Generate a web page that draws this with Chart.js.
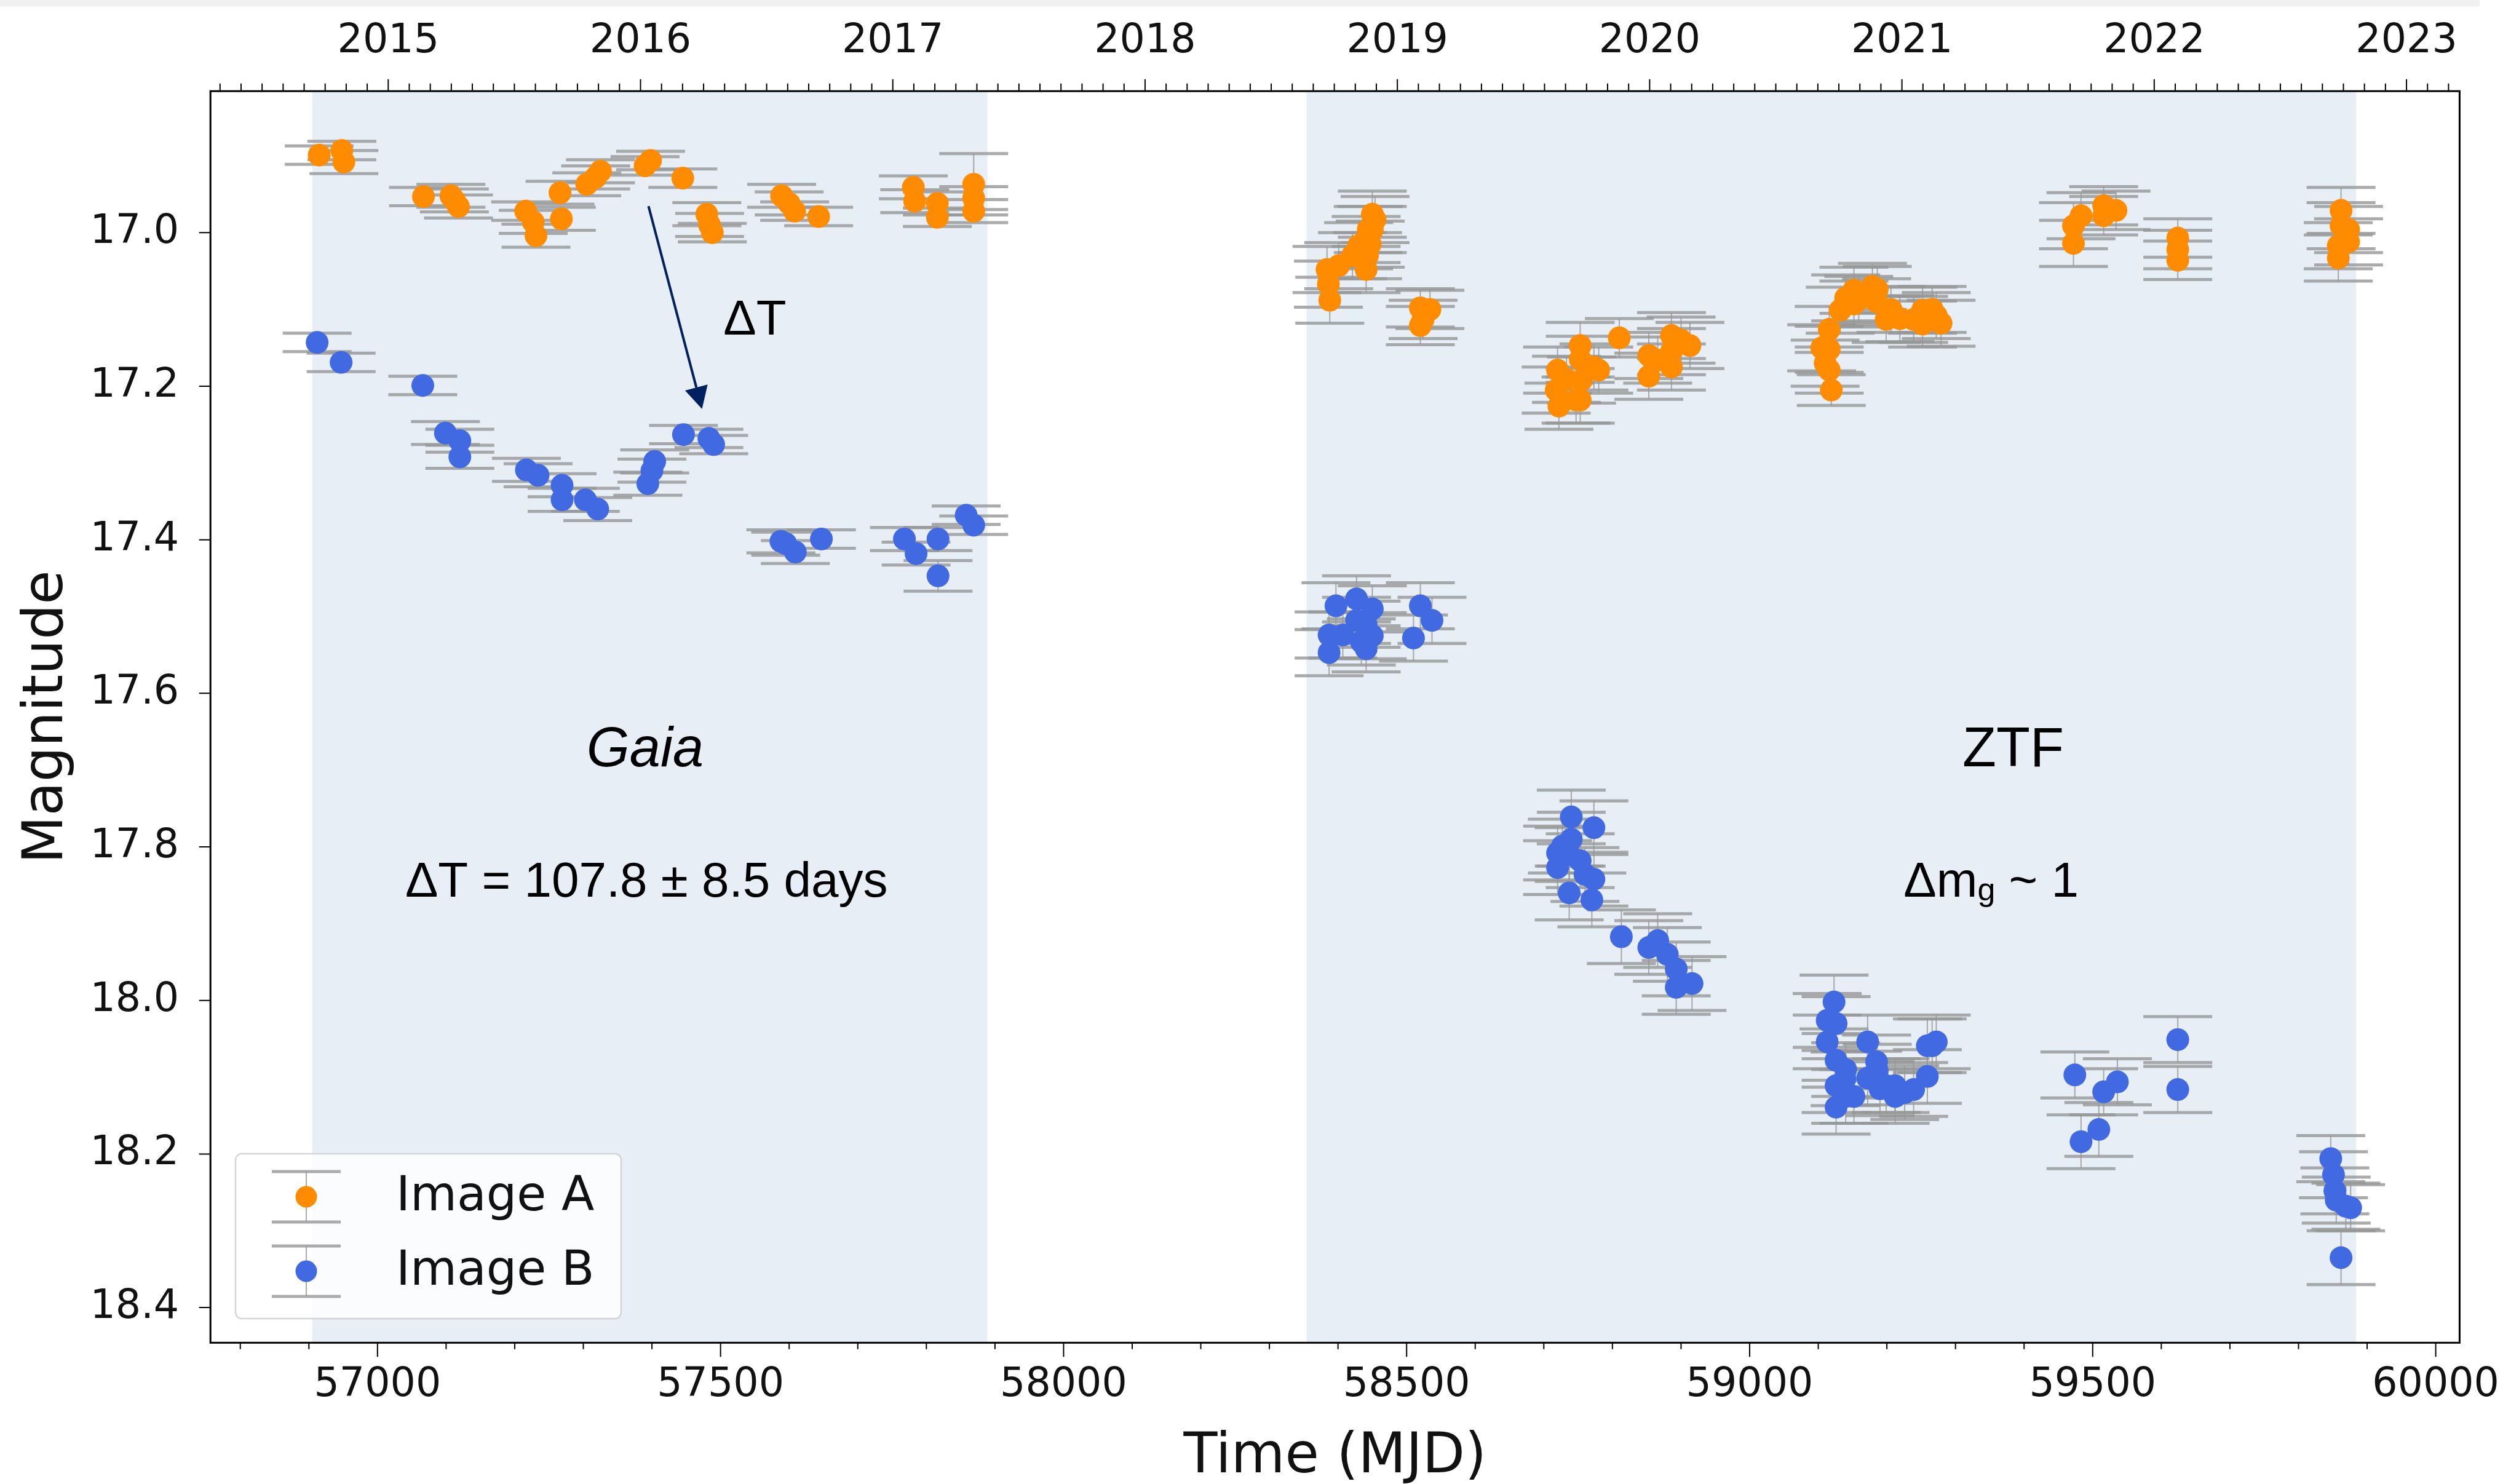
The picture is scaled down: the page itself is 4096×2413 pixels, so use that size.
<!DOCTYPE html>
<html>
<head>
<meta charset="utf-8">
<title>Light curves of Image A and Image B</title>
<script src="https://cdn.jsdelivr.net/npm/chart.js@4.4.1/dist/chart.umd.min.js"></script>
<style>
  html, body { margin: 0; padding: 0; background: #fff; }
  canvas { display: block; }
</style>
</head>
<body>
<canvas id="lc" width="4096" height="2413"></canvas>
<script>
// Image A (orange): Gaia then ZTF seasons
const mjdA = [
  56915, 56948, 56951, 57067, 57107, 57112, 57118, 57216, 57227, 57231, 57266, 57268,
  57305, 57318, 57325, 57390, 57398, 57445, 57480, 57484, 57488, 57589, 57600, 57608,
  57643, 57781, 57783, 57816, 57816, 57869, 57869, 57869,
  58384, 58386, 58388, 58441, 58443, 58441, 58450, 58450, 58447, 58520, 58524, 58520,
  58401, 58421, 58430, 58444, 58454, 58534,
  58720, 58718, 58722, 58753, 58753, 58755, 58753, 58773, 58810, 58853, 58853, 58886,
  58886, 58886, 58913, 58733, 58780, 58747, 58866, 58900,
  59105, 59110, 59116, 59116, 59116, 59119, 59132, 59140, 59152, 59152, 59179, 59185,
  59199, 59219, 59252, 59252, 59272, 59159, 59186, 59206, 59239, 59266, 59279,
  59472, 59472, 59483, 59516, 59516, 59534, 59624, 59624, 59624,
  59862, 59862, 59873, 59873, 59858, 59858
];
const magA = [
  16.899, 16.893, 16.908, 16.953, 16.952, 16.958, 16.966, 16.972, 16.986, 17.004, 16.948, 16.982,
  16.937, 16.928, 16.920, 16.913, 16.906, 16.929, 16.976, 16.990, 17.000, 16.952, 16.962, 16.972,
  16.979, 16.941, 16.959, 16.962, 16.980, 16.937, 16.955, 16.972,
  17.048, 17.067, 17.088, 17.009, 17.030, 17.048, 16.976, 16.996, 17.015, 17.098, 17.113, 17.121,
  17.043, 17.030, 17.017, 16.996, 16.983, 17.100,
  17.179, 17.205, 17.226, 17.147, 17.165, 17.192, 17.218, 17.175, 17.137, 17.160, 17.187, 17.134,
  17.155, 17.175, 17.147, 17.191, 17.179, 17.218, 17.166, 17.140,
  17.150, 17.170, 17.126, 17.152, 17.179, 17.205, 17.101, 17.085, 17.075, 17.093, 17.070, 17.090,
  17.113, 17.112, 17.101, 17.119, 17.108, 17.087, 17.074, 17.100, 17.113, 17.100, 17.118,
  16.991, 17.014, 16.978, 16.965, 16.978, 16.971, 17.007, 17.022, 17.036,
  16.971, 16.991, 16.996, 17.012, 17.017, 17.033
];
const errA = [
  0.012, 0.012, 0.015, 0.012, 0.015, 0.015, 0.015, 0.012, 0.015, 0.015, 0.015, 0.015,
  0.015, 0.015, 0.015, 0.012, 0.012, 0.012, 0.015, 0.015, 0.012, 0.015, 0.015, 0.012,
  0.012, 0.015, 0.015, 0.015, 0.012, 0.040, 0.015, 0.015,
  0.030, 0.030, 0.030, 0.030, 0.030, 0.030, 0.030, 0.030, 0.030, 0.025, 0.025, 0.025,
  0.030, 0.030, 0.030, 0.030, 0.030, 0.025,
  0.030, 0.030, 0.030, 0.030, 0.030, 0.030, 0.030, 0.030, 0.025, 0.030, 0.030, 0.030,
  0.030, 0.030, 0.030, 0.030, 0.030, 0.030, 0.030, 0.030,
  0.030, 0.030, 0.030, 0.030, 0.030, 0.020, 0.030, 0.030, 0.030, 0.030, 0.030, 0.030,
  0.030, 0.030, 0.030, 0.030, 0.030, 0.030, 0.030, 0.030, 0.030, 0.030, 0.030,
  0.030, 0.030, 0.030, 0.025, 0.025, 0.025, 0.025, 0.025, 0.025,
  0.030, 0.030, 0.030, 0.030, 0.030, 0.030
];

// Image B (blue)
const mjdB = [
  56912, 56947, 57066, 57099, 57120, 57120, 57217, 57234, 57269, 57269, 57303, 57321,
  57394, 57404, 57400, 57446, 57483, 57490, 57588, 57609, 57595, 57647, 57768, 57785,
  57817, 57817, 57858, 57869,
  58387, 58387, 58397, 58427, 58427, 58441, 58441, 58450, 58450, 58510, 58520, 58537,
  58407, 58434,
  58740, 58740, 58773, 58720, 58720, 58737, 58760, 58773, 58737, 58770, 58813, 58853,
  58866, 58880, 58893, 58893, 58916, 58727, 58753,
  59123, 59113, 59113, 59126, 59126, 59126, 59140, 59140, 59172, 59172, 59185, 59190,
  59212, 59212, 59226, 59259, 59272, 59259, 59139, 59152, 59199, 59186, 59239, 59266, 59126,
  59474, 59516, 59536, 59483, 59509, 59624, 59624,
  59847, 59851, 59853, 59855, 59869, 59876, 59862
];
const magB = [
  17.143, 17.169, 17.199, 17.261, 17.271, 17.292, 17.309, 17.316, 17.329, 17.348, 17.348, 17.360,
  17.327, 17.298, 17.310, 17.263, 17.268, 17.276, 17.402, 17.416, 17.405, 17.399, 17.399, 17.418,
  17.399, 17.447, 17.368, 17.381,
  17.524, 17.547, 17.486, 17.477, 17.505, 17.510, 17.542, 17.490, 17.525, 17.528, 17.486, 17.505,
  17.524, 17.533,
  17.761, 17.790, 17.775, 17.808, 17.827, 17.810, 17.836, 17.842, 17.860, 17.869, 17.917, 17.931,
  17.922, 17.940, 17.959, 17.983, 17.978, 17.799, 17.818,
  18.002, 18.026, 18.054, 18.078, 18.111, 18.139, 18.090, 18.125, 18.054, 18.101, 18.080, 18.115,
  18.111, 18.125, 18.120, 18.059, 18.054, 18.099, 18.102, 18.125, 18.111, 18.092, 18.116, 18.059, 18.030,
  18.097, 18.119, 18.106, 18.184, 18.168, 18.051, 18.116,
  18.206, 18.227, 18.248, 18.260, 18.268, 18.270, 18.335
];
const errB = [
  0.012, 0.012, 0.012, 0.015, 0.015, 0.015, 0.015, 0.015, 0.015, 0.015, 0.015, 0.015,
  0.015, 0.015, 0.015, 0.012, 0.012, 0.012, 0.015, 0.015, 0.015, 0.012, 0.015, 0.015,
  0.015, 0.020, 0.012, 0.012,
  0.030, 0.030, 0.030, 0.030, 0.030, 0.030, 0.030, 0.030, 0.030, 0.030, 0.030, 0.030,
  0.030, 0.030,
  0.035, 0.035, 0.035, 0.035, 0.035, 0.035, 0.035, 0.035, 0.035, 0.035, 0.035, 0.035,
  0.035, 0.035, 0.035, 0.035, 0.035, 0.035, 0.035,
  0.035, 0.035, 0.035, 0.035, 0.035, 0.035, 0.035, 0.035, 0.035, 0.035, 0.035, 0.035,
  0.035, 0.035, 0.035, 0.035, 0.035, 0.035, 0.035, 0.035, 0.035, 0.035, 0.035, 0.035, 0.035,
  0.030, 0.030, 0.030, 0.035, 0.035, 0.030, 0.030,
  0.030, 0.030, 0.030, 0.030, 0.030, 0.030, 0.035
];

const xTicks = [57000, 57500, 58000, 58500, 59000, 59500, 60000];
const yTicks = [17.0, 17.2, 17.4, 17.6, 17.8, 18.0, 18.2, 18.4];
const yearTicks = [2015, 2016, 2017, 2018, 2019, 2020, 2021, 2022, 2023];
const surveyStart = [56905, 58354];
const surveyEnd = [57889, 59884];
const surveyNames = ['Gaia', 'ZTF'];

const orange = '#ff8c00';
const blue = '#4169e1';
const errColor = 'rgba(150,150,150,0.8)';
const navy = '#002060';
const markerR = 18.5;

function drawErrors(ctx, chart, idx, errs) {
  const meta = chart.getDatasetMeta(idx);
  const ys = chart.scales.y;
  const vals = chart.data.datasets[idx].data;
  ctx.strokeStyle = errColor;
  meta.data.forEach((pt, i) => {
    const top = ys.getPixelForValue(vals[i].y - errs[i]);
    const bot = ys.getPixelForValue(vals[i].y + errs[i]);
    ctx.lineWidth = 2;
    ctx.beginPath();
    ctx.moveTo(pt.x, top); ctx.lineTo(pt.x, bot);
    ctx.stroke();
    ctx.lineWidth = 5;
    ctx.beginPath();
    ctx.moveTo(pt.x - 56, top); ctx.lineTo(pt.x + 56, top);
    ctx.moveTo(pt.x - 56, bot); ctx.lineTo(pt.x + 56, bot);
    ctx.stroke();
  });
}

const decorations = {
  id: 'decorations',
  beforeDraw(chart) {
    const { ctx } = chart;
    ctx.save();
    ctx.fillStyle = '#fff';
    ctx.fillRect(0, 0, chart.width, chart.height);
    ctx.fillStyle = '#f0f0f0';
    ctx.fillRect(0, 0, 4032, 10.7);
    ctx.restore();
  },
  beforeDatasetsDraw(chart) {
    const { ctx, chartArea: a, scales } = chart;
    ctx.save();
    ctx.fillStyle = '#e7eef6';
    surveyStart.forEach((s, i) => {
      const x0 = scales.x.getPixelForValue(s);
      const x1 = scales.x.getPixelForValue(surveyEnd[i]);
      ctx.fillRect(x0, a.top, x1 - x0, a.bottom - a.top);
    });
    drawErrors(ctx, chart, 0, errA);
    drawErrors(ctx, chart, 1, errB);
    ctx.restore();
  },
  afterDatasetsDraw(chart) {
    const { ctx, chartArea: a, scales } = chart;
    const xs = scales.x, ys = scales.y, ts = scales.top;
    ctx.save();

    // frame and ticks
    ctx.strokeStyle = '#000';
    ctx.lineWidth = 3;
    ctx.strokeRect(a.left, a.top, a.right - a.left, a.bottom - a.top);
    ctx.lineWidth = 2;
    ctx.beginPath();
    for (let v = 56800; v <= 60000; v += 100) {
      const px = xs.getPixelForValue(v);
      if (px < a.left || px > a.right) continue;
      const len = v % 500 === 0 ? 23 : 10.5;
      ctx.moveTo(px, a.bottom); ctx.lineTo(px, a.bottom + len);
    }
    for (let y = 2014; y <= 2024; y++) {
      for (let m = 0; m < 12; m++) {
        const px = ts.getPixelForValue(y + m / 12);
        if (px < a.left || px > a.right) continue;
        const len = m === 0 ? 19.5 : 12.5;
        ctx.moveTo(px, a.top); ctx.lineTo(px, a.top - len);
      }
    }
    yTicks.forEach(v => {
      const py = ys.getPixelForValue(v);
      ctx.moveTo(a.left, py); ctx.lineTo(a.left - 18.5, py);
    });
    ctx.stroke();

    // delay arrow
    const x0 = xs.getPixelForValue(57395), y0 = ys.getPixelForValue(16.9656);
    const x1 = xs.getPixelForValue(57473), y1 = ys.getPixelForValue(17.2296);
    const ang = Math.atan2(y1 - y0, x1 - x0);
    const hl = 36, hw = 19;
    ctx.strokeStyle = navy;
    ctx.fillStyle = navy;
    ctx.lineWidth = 4;
    ctx.beginPath();
    ctx.moveTo(x0, y0);
    ctx.lineTo(x1 - hl * Math.cos(ang), y1 - hl * Math.sin(ang));
    ctx.stroke();
    ctx.beginPath();
    ctx.moveTo(x1, y1);
    ctx.lineTo(x1 - hl * Math.cos(ang) + hw * Math.sin(ang), y1 - hl * Math.sin(ang) - hw * Math.cos(ang));
    ctx.lineTo(x1 - hl * Math.cos(ang) - hw * Math.sin(ang), y1 - hl * Math.sin(ang) + hw * Math.cos(ang));
    ctx.closePath();
    ctx.fill();

    // annotations
    ctx.fillStyle = '#000';
    ctx.textAlign = 'center';
    ctx.textBaseline = 'alphabetic';
    ctx.font = '80px "Liberation Sans"';
    ctx.fillText('\u0394T', xs.getPixelForValue(57550), ys.getPixelForValue(17.1328));
    ctx.fillText('\u0394T = 107.8 \u00b1 8.5 days', xs.getPixelForValue(57392), ys.getPixelForValue(17.8645));
    ctx.font = 'italic 90px "Liberation Sans"';
    ctx.fillText(surveyNames[0], xs.getPixelForValue(57390), ys.getPixelForValue(17.695));
    ctx.font = '90px "Liberation Sans"';
    ctx.fillText(surveyNames[1], xs.getPixelForValue(59384), ys.getPixelForValue(17.695));

    // Δm_g ~ 1 with a subscript g
    ctx.textAlign = 'left';
    const big = '80px "Liberation Sans"', small = '52px "Liberation Sans"';
    ctx.font = big; const w1 = ctx.measureText('\u0394m').width, w3 = ctx.measureText(' ~ 1').width;
    ctx.font = small; const w2 = ctx.measureText('g').width;
    let tx = xs.getPixelForValue(59352) - (w1 + w2 + w3) / 2;
    const ty = ys.getPixelForValue(17.8645);
    ctx.font = big; ctx.fillText('\u0394m', tx, ty); tx += w1;
    ctx.font = small; ctx.fillText('g', tx, ty + 6); tx += w2;
    ctx.font = big; ctx.fillText(' ~ 1', tx, ty);

    // legend
    const lx = 383, ly = 1876, lw = 627, lh = 268;
    ctx.beginPath();
    ctx.roundRect(lx, ly, lw, lh, 10);
    ctx.fillStyle = 'rgba(255,255,255,0.8)';
    ctx.fill();
    ctx.strokeStyle = 'rgba(204,204,204,0.8)';
    ctx.lineWidth = 2.5;
    ctx.stroke();
    [[chart.data.datasets[0], 1946], [chart.data.datasets[1], 2067]].forEach(([ds, cy]) => {
      const mx = 498;
      ctx.strokeStyle = errColor;
      ctx.lineWidth = 2;
      ctx.beginPath(); ctx.moveTo(mx, cy - 41); ctx.lineTo(mx, cy + 41); ctx.stroke();
      ctx.lineWidth = 5;
      ctx.beginPath();
      ctx.moveTo(mx - 56, cy - 41); ctx.lineTo(mx + 56, cy - 41);
      ctx.moveTo(mx - 56, cy + 41); ctx.lineTo(mx + 56, cy + 41);
      ctx.stroke();
      ctx.fillStyle = ds.backgroundColor;
      ctx.beginPath(); ctx.arc(mx, cy, 17.5, 0, Math.PI * 2); ctx.fill();
      ctx.fillStyle = '#111';
      ctx.font = '78px "DejaVu Sans"';
      ctx.textBaseline = 'middle';
      ctx.fillText(ds.label, 644, cy + 2);
    });
    ctx.restore();
  }
};

Chart.defaults.font.family = '"DejaVu Sans"';
Chart.defaults.color = '#111';

new Chart(document.getElementById('lc'), {
  type: 'scatter',
  data: {
    datasets: [
      {
        label: 'Image A',
        data: mjdA.map((x, i) => ({ x, y: magA[i] })),
        backgroundColor: orange,
        borderWidth: 0,
        pointRadius: markerR,
        pointHoverRadius: markerR
      },
      {
        label: 'Image B',
        data: mjdB.map((x, i) => ({ x, y: magB[i] })),
        backgroundColor: blue,
        borderWidth: 0,
        pointRadius: markerR,
        pointHoverRadius: markerR
      }
    ]
  },
  options: {
    responsive: false,
    animation: false,
    layout: { padding: { left: 0, top: 0, right: 78, bottom: 0 } },
    plugins: { legend: { display: false }, tooltip: { enabled: false } },
    scales: {
      x: {
        type: 'linear',
        position: 'bottom',
        min: 56756.5,
        max: 60034.8,
        grid: { display: false, drawTicks: false },
        border: { display: false },
        afterBuildTicks: s => { s.ticks = xTicks.map(v => ({ value: v })); },
        afterFit: s => { s.height = 229.7; },
        ticks: { font: { size: 65 }, padding: 31, maxRotation: 0, autoSkip: false, callback: v => String(v) },
        title: { display: true, text: 'Time (MJD)', font: { size: 90, lineHeight: 0.9 }, padding: { top: 0, bottom: 2 } }
      },
      top: {
        type: 'linear',
        axis: 'x',
        position: 'top',
        min: 2014.2953,
        max: 2023.2105,
        grid: { display: false, drawTicks: false },
        border: { display: false },
        afterBuildTicks: s => { s.ticks = yearTicks.map(v => ({ value: v })); },
        afterFit: s => { s.height = 148.2; },
        ticks: { font: { size: 65 }, padding: 41, maxRotation: 0, autoSkip: false, callback: v => String(v) }
      },
      y: {
        type: 'linear',
        reverse: true,
        min: 16.8157,
        max: 18.4458,
        grid: { display: false, drawTicks: false },
        border: { display: false },
        afterBuildTicks: s => { s.ticks = yTicks.map(v => ({ value: v })); },
        afterFit: s => { s.width = 342.2; },
        ticks: { font: { size: 65 }, padding: 51, autoSkip: false, callback: v => v.toFixed(1) },
        title: { display: true, text: 'Magnitude', font: { size: 90, lineHeight: 1 }, padding: { top: 33, bottom: 0 } }
      }
    }
  },
  plugins: [decorations]
});
</script>
</body>
</html>
